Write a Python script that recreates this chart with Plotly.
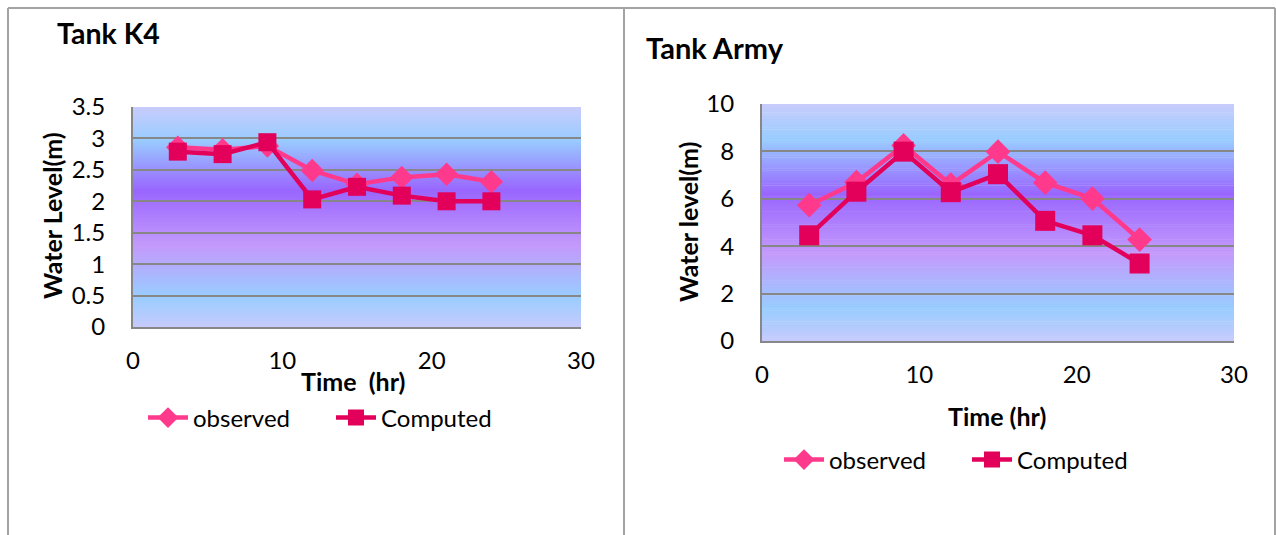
import plotly.graph_objects as go

# ---- data -------------------------------------------------------------
time_hr = [3, 6, 9, 12, 15, 18, 21, 24]

k4_observed = [2.86, 2.82, 2.88, 2.49, 2.27, 2.38, 2.43, 2.31]
k4_computed = [2.79, 2.75, 2.94, 2.03, 2.23, 2.09, 2.00, 2.00]

army_observed = [5.73, 6.70, 8.25, 6.60, 7.99, 6.68, 6.01, 4.28]
army_computed = [4.46, 6.30, 7.99, 6.28, 7.04, 5.07, 4.46, 3.27]

k4_yticks = [0, 0.5, 1, 1.5, 2, 2.5, 3, 3.5]
army_yticks = [0, 2, 4, 6, 8, 10]
x_ticks = [0, 10, 20, 30]

# ---- styling ----------------------------------------------------------
W, H = 1276, 535
FONT = "Lato"
OBS_COLOR = "#ff3a8c"
COMP_COLOR = "#e2005a"
GRID = "#878787"

# vertical gradient of the plot area (fraction from bottom, colour)
GRAD = [
    (0.00, (0xc6, 0xcb, 0xfc)),
    (0.14, (0x99, 0xcc, 0xff)),
    (0.37, (0xc3, 0x9a, 0xfb)),
    (0.62, (0x99, 0x66, 0xff)),
    (0.85, (0x99, 0xcc, 0xff)),
    (1.00, (0xc8, 0xcc, 0xfc)),
]


def grad_color(f):
    for (f0, c0), (f1, c1) in zip(GRAD[:-1], GRAD[1:]):
        if f0 <= f <= f1:
            t = (f - f0) / (f1 - f0)
            r, g, b = (round(a + (b_ - a) * t) for a, b_ in zip(c0, c1))
            return f"rgb({r},{g},{b})"
    return "rgb(200,204,252)"


def px_x(px):
    return px / W


def px_y(py):
    return 1 - py / H


fig = go.Figure()


# ---- traces -----------------------------------------------------------
def add_pair(obs, comp, xa, ya, legend, msize_d, msize_s):
    fig.add_trace(go.Scatter(
        x=time_hr, y=obs, name="observed", xaxis=xa, yaxis=ya, legend=legend,
        mode="lines+markers",
        line=dict(color=OBS_COLOR, width=4.5),
        marker=dict(symbol="diamond", size=msize_d, color=OBS_COLOR),
    ))
    fig.add_trace(go.Scatter(
        x=time_hr, y=comp, name="Computed", xaxis=xa, yaxis=ya, legend=legend,
        mode="lines+markers",
        line=dict(color=COMP_COLOR, width=4.5),
        marker=dict(symbol="square", size=msize_s, color=COMP_COLOR),
    ))


add_pair(k4_observed, k4_computed, "x", "y", "legend", 18, 18)
add_pair(army_observed, army_computed, "x2", "y2", "legend2", 19, 20)

# ---- axes -------------------------------------------------------------
tickfont = dict(family=FONT, size=24, color="#000000")

common_x = dict(
    range=[0, 30], tickvals=x_ticks, showgrid=False, zeroline=False,
    showline=True, linecolor=GRID, linewidth=2, tickfont=tickfont,
    ticks="", ticklabelstandoff=11, fixedrange=True, automargin=False,
)
common_y = dict(
    showgrid=True, gridcolor=GRID, gridwidth=1.6, zeroline=False,
    showline=True, linecolor=GRID, linewidth=2, tickfont=tickfont,
    ticks="", ticklabelstandoff=21, fixedrange=True, automargin=False,
)

fig.update_layout(
    xaxis=dict(domain=[px_x(133), px_x(581)], anchor="y", **common_x),
    yaxis=dict(domain=[px_y(327), px_y(107)], anchor="x", range=[0, 3.5],
               tickvals=k4_yticks, ticktext=[f"{v:g}" for v in k4_yticks],
               **common_y),
    xaxis2=dict(domain=[px_x(762), px_x(1234)], anchor="y2", **common_x),
    yaxis2=dict(domain=[px_y(341), px_y(104)], anchor="x2", range=[0, 10],
                tickvals=army_yticks, **common_y),
)

# ---- plot-area gradient fills ------------------------------------------
shapes = []
N = 110
for xa, ya in (("x", "y"), ("x2", "y2")):
    for i in range(N):
        f0, f1 = i / N, (i + 1) / N
        shapes.append(dict(
            type="rect", xref=f"{xa} domain", yref=f"{ya} domain",
            x0=0, x1=1, y0=f0, y1=min(f1 + 0.002, 1), layer="below",
            fillcolor=grad_color((f0 + f1) / 2), line=dict(width=0),
        ))

# chart frames
frame = dict(color="#a3a3a3", width=2)
top = px_y(8)
for xv in (8, 624, 1275):
    shapes.append(dict(type="line", xref="paper", yref="paper",
                       x0=px_x(xv), x1=px_x(xv), y0=0, y1=top, line=frame))
shapes.append(dict(type="line", xref="paper", yref="paper",
                   x0=px_x(8), x1=px_x(1275), y0=top, y1=top, line=frame))


# ---- titles and axis labels ------------------------------------------
def label(text, x, y, size, angle=0, xanchor="center"):
    return dict(text=text, x=px_x(x), y=px_y(y), xref="paper", yref="paper",
                showarrow=False, textangle=angle, xanchor=xanchor,
                yanchor="middle", font=dict(family=FONT, size=size, color="#000"))


ann = [
    label("<b>Tank K4</b>", 55, 33, 28.5, xanchor="left"),
    label("<b>Tank Army</b>", 644, 48, 29, xanchor="left"),
    label("<b>Time  (hr)</b>", 353, 381, 25),
    label("<b>Time (hr)</b>", 997, 416, 25),
    label("<b>Water Level(m)</b>", 52, 216, 25, angle=-90),
    label("<b>Water level(m)</b>", 688, 222, 25, angle=-90),
]

legend_common = dict(
    orientation="h", bgcolor="rgba(0,0,0,0)",
    font=dict(family=FONT, size=24, color="#000"),
    xanchor="left", yanchor="middle", itemwidth=40, entrywidth=133,
    itemclick=False, itemdoubleclick=False,
)

fig.update_layout(
    width=W, height=H,
    margin=dict(l=0, r=0, t=0, b=0, pad=0, autoexpand=False),
    paper_bgcolor="#ffffff",
    plot_bgcolor="rgba(0,0,0,0)",
    shapes=shapes,
    annotations=ann,
    legend=dict(x=px_x(143), y=px_y(418), **legend_common),
    legend2=dict(x=px_x(779), y=px_y(460), **legend_common),
    showlegend=True,
)

fig.write_html(
    "out.html",
    config={"displayModeBar": False},
    post_script="document.body.style.margin='0';",
)
